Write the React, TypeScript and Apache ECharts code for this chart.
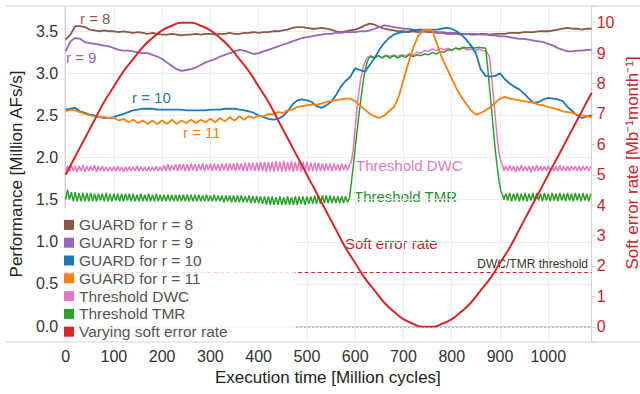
import React, { useEffect, useRef } from "react";
import * as echarts from "echarts";

const FONT = '"Liberation Sans", Arial, sans-serif';

// Sample times (million cycles) for the GUARD curves: 0..1090 every 10
const guardTimes = Array.from({ length: 110 }, (_, i) => i * 10);

const guardR8 = [
  3.40, 3.46, 3.56, 3.56, 3.55, 3.52, 3.51, 3.50, 3.51, 3.50,
  3.50, 3.49, 3.50, 3.49, 3.48, 3.49, 3.48, 3.47, 3.48, 3.47,
  3.46, 3.46, 3.47, 3.46, 3.45, 3.46, 3.46, 3.47, 3.46, 3.47,
  3.47, 3.46, 3.47, 3.47, 3.48, 3.47, 3.47, 3.48, 3.48, 3.49,
  3.48, 3.49, 3.49, 3.50, 3.50, 3.51, 3.52, 3.54, 3.55, 3.55,
  3.54, 3.53, 3.53, 3.54, 3.53, 3.52, 3.50, 3.49, 3.50, 3.51,
  3.52, 3.54, 3.57, 3.59, 3.58, 3.55, 3.53, 3.52, 3.51, 3.50,
  3.50, 3.49, 3.50, 3.49, 3.50, 3.49, 3.49, 3.48, 3.48, 3.47,
  3.47, 3.47, 3.46, 3.47, 3.46, 3.46, 3.47, 3.47, 3.46, 3.47,
  3.47, 3.47, 3.48, 3.48, 3.48, 3.49, 3.49, 3.49, 3.50, 3.50,
  3.50, 3.51, 3.52, 3.53, 3.54, 3.53, 3.53, 3.52, 3.53, 3.53,
];

const guardR9 = [
  3.26, 3.38, 3.42, 3.41, 3.37, 3.36, 3.35, 3.34, 3.33, 3.32,
  3.30, 3.28, 3.27, 3.27, 3.26, 3.25, 3.24, 3.24, 3.22, 3.20,
  3.17, 3.13, 3.09, 3.05, 3.03, 3.04, 3.05, 3.07, 3.10, 3.13,
  3.15, 3.17, 3.20, 3.22, 3.24, 3.26, 3.28, 3.27, 3.25, 3.23,
  3.24, 3.26, 3.28, 3.30, 3.32, 3.34, 3.36, 3.38, 3.40, 3.42,
  3.43, 3.44, 3.45, 3.46, 3.47, 3.47, 3.48, 3.48, 3.49, 3.49,
  3.49, 3.50, 3.50, 3.51, 3.53, 3.55, 3.57, 3.56, 3.55, 3.54,
  3.53, 3.53, 3.52, 3.51, 3.50, 3.50, 3.50, 3.49, 3.49, 3.48,
  3.48, 3.48, 3.47, 3.47, 3.47, 3.47, 3.46, 3.46, 3.45, 3.45,
  3.44, 3.44, 3.43, 3.42, 3.41, 3.41, 3.40, 3.39, 3.38, 3.37,
  3.35, 3.33, 3.30, 3.28, 3.26, 3.26, 3.27, 3.27, 3.28, 3.28,
];

const guardR10 = [
  2.57, 2.58, 2.59, 2.55, 2.53, 2.51, 2.50, 2.48, 2.47, 2.47,
  2.48, 2.50, 2.52, 2.54, 2.56, 2.57, 2.58, 2.58, 2.58, 2.57,
  2.57, 2.57, 2.57, 2.57, 2.57, 2.56, 2.56, 2.56, 2.56, 2.56,
  2.57, 2.57, 2.57, 2.58, 2.58, 2.58, 2.57, 2.56, 2.55, 2.53,
  2.50, 2.48, 2.46, 2.45, 2.46, 2.49, 2.55, 2.63, 2.68, 2.69,
  2.68, 2.66, 2.61, 2.59, 2.62, 2.66, 2.74, 2.84, 2.91, 2.96,
  3.06, 3.04, 3.02, 3.10, 3.18, 3.28, 3.36, 3.42, 3.46, 3.48,
  3.49, 3.50, 3.51, 3.52, 3.52, 3.52, 3.52, 3.52, 3.53, 3.54,
  3.53, 3.50, 3.46, 3.40, 3.33, 3.24, 3.05, 2.97, 2.96, 2.97,
  3.00, 2.93, 2.88, 2.84, 2.81, 2.76, 2.70, 2.65, 2.66, 2.69,
  2.71, 2.70, 2.69, 2.67, 2.60, 2.55, 2.50, 2.47, 2.49, 2.50,
];

const guardR11 = [
  2.55, 2.57, 2.56, 2.54, 2.52, 2.50, 2.49, 2.48, 2.48, 2.47,
  2.47, 2.44, 2.46, 2.42, 2.45, 2.41, 2.44, 2.40, 2.44, 2.40,
  2.44, 2.40, 2.45, 2.40, 2.44, 2.41, 2.45, 2.41, 2.45, 2.42,
  2.46, 2.42, 2.47, 2.43, 2.48, 2.44, 2.49, 2.45, 2.49, 2.47,
  2.50, 2.49, 2.52, 2.51, 2.54, 2.53, 2.56, 2.57, 2.60, 2.61,
  2.62, 2.63, 2.63, 2.64, 2.66, 2.67, 2.68, 2.69, 2.70, 2.70,
  2.67, 2.62, 2.57, 2.52, 2.49, 2.47, 2.50, 2.55, 2.60, 2.72,
  2.92, 3.12, 3.30, 3.44, 3.51, 3.52, 3.51, 3.34, 3.18, 3.06,
  2.94, 2.82, 2.72, 2.64, 2.56, 2.51, 2.53, 2.56, 2.60, 2.65,
  2.70, 2.72, 2.70, 2.69, 2.68, 2.67, 2.66, 2.65, 2.63, 2.62,
  2.60, 2.59, 2.57, 2.55, 2.54, 2.53, 2.51, 2.50, 2.49, 2.48,
];

// Threshold DWC: left part sampled every 4 from 0, transition/plateau, right part every 4 from 908
const dwcLeft = [
  1.84, 1.90, 1.83, 1.91, 1.84, 1.90, 1.83, 1.90, 1.84, 1.91, 1.83, 1.90, 1.84, 1.90, 1.84, 1.91, 1.83, 1.90, 1.84, 1.90, 1.84, 1.89, 1.84,
  1.89, 1.84, 1.89, 1.84, 1.90, 1.84, 1.89, 1.83, 1.89, 1.84, 1.89, 1.84, 1.89, 1.84, 1.90, 1.84, 1.89, 1.84, 1.89, 1.84, 1.89, 1.84, 1.89, 1.84, 1.90, 1.84, 1.89, 1.84,
  1.91, 1.84, 1.92, 1.84, 1.91, 1.85, 1.92, 1.84, 1.92, 1.85, 1.92, 1.84, 1.92, 1.84, 1.93, 1.85, 1.92, 1.84, 1.92, 1.85, 1.93, 1.84, 1.92, 1.85, 1.93, 1.84, 1.93, 1.85, 1.92, 1.84,
  1.93, 1.85, 1.93, 1.84, 1.93, 1.85, 1.93, 1.84, 1.94, 1.85, 1.93, 1.84, 1.94, 1.84, 1.94, 1.85, 1.94, 1.84, 1.94, 1.84,
  1.95, 1.84, 1.95, 1.83, 1.95, 1.84, 1.95, 1.83, 1.96, 1.84, 1.95, 1.83, 1.96, 1.83, 1.95, 1.84, 1.96, 1.83, 1.95, 1.84, 1.96, 1.83, 1.95, 1.84,
  1.95, 1.84, 1.94, 1.84, 1.94, 1.84, 1.94, 1.84, 1.93, 1.84, 1.93, 1.85, 1.93, 1.84, 1.93, 1.85, 1.92, 1.84, 1.93, 1.85, 1.92, 1.85, 1.91,
];
const dwcMidTimes = [
  592, 596, 600, 604, 608, 612, 616, 620, 624, 628,
  632, 640, 648, 656, 664, 672, 680, 688, 696, 704, 712, 720, 728, 736, 744, 752, 760, 768, 776, 784, 792, 800, 808, 816, 824, 832, 840, 848, 856, 864, 872,
  878, 882, 886, 890, 894, 898, 902, 906,
];
const dwcMid = [
  1.95, 2.10, 2.35, 2.60, 2.80, 2.95, 3.06, 3.13, 3.18, 3.20,
  3.21, 3.19, 3.21, 3.19, 3.22, 3.20, 3.22, 3.20, 3.22, 3.21, 3.23, 3.22, 3.25, 3.24, 3.27, 3.26, 3.29, 3.27, 3.30, 3.28, 3.30, 3.28, 3.30, 3.28, 3.30, 3.28, 3.29, 3.27, 3.29, 3.27, 3.26,
  3.20, 3.00, 2.75, 2.50, 2.25, 2.05, 1.95, 1.90,
];
const dwcRight = [
  1.84, 1.90, 1.84, 1.91, 1.84, 1.90, 1.83, 1.90, 1.84, 1.91, 1.84, 1.90, 1.84, 1.90, 1.83, 1.90,
  1.84, 1.91, 1.84, 1.90, 1.84, 1.90, 1.84, 1.90, 1.85, 1.90, 1.84, 1.90, 1.84, 1.91, 1.84, 1.90,
  1.84, 1.90, 1.84, 1.90, 1.85, 1.90, 1.84, 1.90, 1.84, 1.90, 1.85, 1.90, 1.84, 1.90,
];

// Threshold TMR
const tmrLeft = [
  1.50, 1.62, 1.50, 1.59, 1.48, 1.59, 1.48, 1.58, 1.48, 1.58, 1.48, 1.58, 1.48, 1.58,
  1.48, 1.57, 1.48, 1.57, 1.49, 1.57, 1.48, 1.58, 1.48, 1.57, 1.48, 1.57, 1.49, 1.57, 1.48, 1.57, 1.48, 1.57, 1.49, 1.57, 1.48, 1.57, 1.48, 1.56, 1.48, 1.57,
  1.48, 1.56, 1.48, 1.57, 1.48, 1.56, 1.48, 1.57, 1.48, 1.56, 1.48, 1.56, 1.48, 1.56, 1.48, 1.56, 1.48, 1.56, 1.48, 1.56, 1.48, 1.56, 1.48, 1.56, 1.48, 1.56,
  1.48, 1.56, 1.48, 1.56, 1.48, 1.55, 1.48, 1.56, 1.48, 1.55, 1.48, 1.56, 1.48, 1.55, 1.48, 1.55, 1.47, 1.55, 1.48, 1.55, 1.47, 1.55, 1.47, 1.55, 1.47, 1.55, 1.47, 1.54, 1.47, 1.55, 1.46, 1.54, 1.46, 1.54, 1.46,
  1.54, 1.45, 1.54, 1.44, 1.54, 1.44, 1.54, 1.44, 1.53, 1.44, 1.54, 1.44, 1.53, 1.44, 1.54, 1.44, 1.53, 1.44, 1.54, 1.44, 1.54, 1.45, 1.54, 1.44, 1.54, 1.45, 1.54, 1.45, 1.55, 1.45, 1.55, 1.45, 1.55, 1.46, 1.55,
  1.46, 1.55, 1.46, 1.54, 1.46, 1.54, 1.46, 1.54, 1.46, 1.54, 1.47,
];
const tmrMidTimes = [
  588, 592, 596, 600, 604, 608, 612, 616, 620, 624, 628, 632,
  640, 648, 656, 664, 672, 680, 688, 696, 704, 712, 720, 728, 736, 744, 752, 760, 768, 776, 784, 792, 800, 808, 816, 824, 832, 840, 848, 856, 864, 870,
  874, 878, 882, 886, 890, 894, 898, 902, 906,
];
const tmrMid = [
  1.52, 1.70, 1.90, 2.12, 2.32, 2.52, 2.70, 2.88, 3.02, 3.12, 3.18, 3.20,
  3.18, 3.21, 3.18, 3.21, 3.18, 3.21, 3.18, 3.21, 3.19, 3.22, 3.20, 3.22, 3.21, 3.23, 3.22, 3.25, 3.23, 3.26, 3.25, 3.28, 3.27, 3.30, 3.29, 3.31, 3.30, 3.31, 3.30, 3.31, 3.30, 3.30,
  3.10, 2.85, 2.60, 2.35, 2.10, 1.90, 1.72, 1.60, 1.55,
];
const tmrRight = [
  1.50, 1.57, 1.49, 1.58, 1.48, 1.57, 1.49, 1.58, 1.48, 1.57, 1.49, 1.58, 1.48, 1.57, 1.49, 1.58,
  1.48, 1.58, 1.49, 1.57, 1.48, 1.58, 1.49, 1.57, 1.48, 1.58, 1.49, 1.57, 1.48, 1.58, 1.49, 1.57,
  1.48, 1.58, 1.49, 1.57, 1.48, 1.58, 1.49, 1.57, 1.48, 1.58, 1.49, 1.57, 1.48, 1.57,
];

// Varying soft error rate (right axis), every 20 from 0, plus the last sample at 1090
const softTimes = [
  0, 20, 40, 60, 80, 100, 120, 140, 160, 180, 200, 220, 240, 260, 280, 300, 320, 340, 360, 380,
  400, 420, 440, 460, 480, 500, 520, 540, 560, 580, 600, 620, 640, 660, 680, 700, 720, 740, 760, 780,
  800, 820, 840, 860, 880, 900, 920, 940, 960, 980, 1000, 1020, 1040, 1060, 1080, 1090,
];
const softRate = [
  5.0, 5.6, 6.2, 6.8, 7.4, 7.9, 8.4, 8.8, 9.2, 9.5, 9.75, 9.9, 10.0, 10.0, 9.9, 9.75, 9.5, 9.2, 8.8, 8.4,
  7.9, 7.4, 6.8, 6.2, 5.6, 5.0, 4.4, 3.8, 3.2, 2.6, 2.1, 1.6, 1.2, 0.8, 0.5, 0.25, 0.1, 0.0, 0.0, 0.1,
  0.25, 0.5, 0.8, 1.2, 1.6, 2.1, 2.6, 3.2, 3.8, 4.4, 5.0, 5.6, 6.2, 6.8, 7.4, 7.7,
];
const dwcTmrThreshold = 1.8;

const legendNames = [
  "GUARD for r = 8",
  "GUARD for r = 9",
  "GUARD for r = 10",
  "GUARD for r = 11",
  "Threshold DWC",
  "Threshold TMR",
  "Varying soft error rate",
];
const colors = ["#8c564b", "#9467bd", "#1f77b4", "#ff7f0e", "#e377c2", "#2ca02c", "#d62728"];

const SPINE = "#d2d2d2";
const GRID = "#ebebeb";
const RED_TEXT = "#c2272d";

function pairs(times: number[], values: number[]) {
  return values.map((v, i) => [times[i], v]);
}
function stepPairs(start: number, step: number, values: number[]) {
  return values.map((v, i) => [start + step * i, v]);
}

function lineSeries(name: string, color: string, data: any[], width: number, z: number) {
  return {
    type: "line",
    name,
    data,
    symbol: "none",
    showSymbol: false,
    silent: true,
    z,
    lineStyle: { color, width },
    itemStyle: { color },
  };
}

export default function App() {
  const ref = useRef<HTMLDivElement>(null);
  useEffect(() => {
    if (!ref.current) return;
    const chart = echarts.init(ref.current, null, { renderer: "svg" });

    const dwcData = [
      ...stepPairs(0, 4, dwcLeft),
      ...pairs(dwcMidTimes, dwcMid),
      ...stepPairs(908, 4, dwcRight),
    ];
    const tmrData = [
      ...stepPairs(0, 4, tmrLeft),
      ...pairs(tmrMidTimes, tmrMid),
      ...stepPairs(908, 4, tmrRight),
    ];

    const near = (v: number, step: number) => Math.abs(v / step - Math.round(v / step)) < 1e-6;

    const option: any = {
      animation: false,
      textStyle: { fontFamily: FONT },
      grid: { left: 58.3, right: 48.3, top: 6, bottom: 52, containLabel: false },
      legend: {
        orient: "vertical",
        left: 58,
        top: 207,
        z: 30,
        itemWidth: 10,
        itemHeight: 10,
        itemGap: 0,
        icon: "rect",
        padding: [9, 66, 2, 6],
        textStyle: { fontSize: 15.5, color: "#555555", lineHeight: 17.8, fontFamily: FONT },
        data: legendNames,
        selectedMode: false,
      },
      xAxis: {
        type: "value",
        min: -3,
        max: 1090,
        splitNumber: 11,
        axisLine: { show: true, lineStyle: { color: SPINE, width: 1 } },
        axisTick: { show: false },
        axisLabel: {
          color: "#333333",
          fontSize: 16,
          margin: 6,
          fontFamily: FONT,
          formatter: (v: number) => (near(v, 100) ? String(Math.round(v)) : ""),
        },
        splitLine: { show: true, lineStyle: { color: GRID, width: 1 } },
        name: "Execution time [Million cycles]",
        nameLocation: "middle",
        nameGap: 27,
        nameTextStyle: { fontSize: 17, color: "#222222", fontFamily: FONT },
      },
      yAxis: [
        {
          type: "value",
          min: -0.19,
          max: 3.8,
          splitNumber: 8,
          axisLine: { show: true, lineStyle: { color: SPINE, width: 1 } },
          axisTick: { show: false },
          axisLabel: {
            color: "#333333",
            fontSize: 16,
            margin: 6,
            fontFamily: FONT,
            formatter: (v: number) => (near(v, 0.5) ? (Math.round(v * 2) / 2).toFixed(1) : ""),
          },
          splitLine: { show: true, lineStyle: { color: GRID, width: 1 } },
          name: "Performance [Million AFs/s]",
          nameLocation: "middle",
          nameRotate: 90,
          nameGap: 33,
          nameTextStyle: { fontSize: 17, color: "#222222", fontFamily: FONT },
        },
        {
          type: "value",
          position: "right",
          min: -0.5,
          max: 10.55,
          splitNumber: 11,
          axisLine: { show: true, lineStyle: { color: SPINE, width: 1 } },
          axisTick: { show: true, length: 4, lineStyle: { color: SPINE } },
          axisLabel: {
            color: RED_TEXT,
            fontSize: 16,
            margin: 5,
            fontFamily: FONT,
            formatter: (v: number) => (near(v, 1) ? String(Math.round(v)) : ""),
          },
          splitLine: { show: false },
        },
      ],
      series: [
        lineSeries(legendNames[0], colors[0], pairs(guardTimes, guardR8), 1.8, 3),
        lineSeries(legendNames[1], colors[1], pairs(guardTimes, guardR9), 1.8, 3),
        lineSeries(legendNames[2], colors[2], pairs(guardTimes, guardR10), 1.8, 3),
        lineSeries(legendNames[3], colors[3], pairs(guardTimes, guardR11), 1.8, 3),
        lineSeries(legendNames[4], colors[4], dwcData, 1.5, 2),
        lineSeries(legendNames[5], colors[5], tmrData, 1.5, 2),
        {
          ...lineSeries(legendNames[6], colors[6], pairs(softTimes, softRate), 2, 3),
          yAxisIndex: 1,
          smooth: true,
          markLine: {
            silent: true,
            symbol: ["none", "none"],
            label: { show: false },
            data: [
              { yAxis: dwcTmrThreshold, lineStyle: { color: "#d62728", type: [4, 2.5], width: 1 } },
              { yAxis: 0, lineStyle: { color: "#b5b5b5", type: [2, 2], width: 1 } },
            ],
          },
        },
      ],
      graphic: [
        { type: "line", shape: { x1: 6, y1: 6, x2: 640, y2: 6 }, style: { stroke: SPINE, lineWidth: 1 }, silent: true },
        { type: "line", shape: { x1: 6, y1: 342, x2: 640, y2: 342 }, style: { stroke: SPINE, lineWidth: 1 }, silent: true },
        {
          type: "rect", z: 20, silent: true,
          shape: { x: 59, y: 208, width: 236, height: 133 },
          style: { fill: "rgba(255,255,255,0.82)", stroke: "none" },
        },
        {
          type: "text", x: 632, y: 163, rotation: Math.PI / 2, silent: true,
          style: { text: "Soft error rate [Mb\u207B\u00B9month\u207B\u00B9]", fill: RED_TEXT, font: `17px ${FONT}`, align: "center", verticalAlign: "middle" },
        },
        { type: "text", x: 80, y: 18, silent: true, style: { text: "r = 8", fill: colors[0], font: `15px ${FONT}`, verticalAlign: "middle" } },
        { type: "text", x: 66, y: 57.5, silent: true, style: { text: "r = 9", fill: colors[1], font: `15px ${FONT}`, verticalAlign: "middle" } },
        { type: "text", x: 132, y: 97, silent: true, style: { text: "r = 10", fill: colors[2], font: `15px ${FONT}`, verticalAlign: "middle" } },
        { type: "text", x: 183, y: 132.5, silent: true, style: { text: "r = 11", fill: colors[3], font: `15px ${FONT}`, verticalAlign: "middle" } },
        { type: "text", x: 356, y: 165, silent: true, style: { text: "Threshold DWC", fill: "#e07bbf", font: `15px ${FONT}`, verticalAlign: "middle" } },
        { type: "text", x: 354, y: 196.5, silent: true, style: { text: "Threshold TMR", fill: "#2b8f3b", font: `15px ${FONT}`, verticalAlign: "middle" } },
        { type: "text", x: 345, y: 243, silent: true, style: { text: "Soft error rate", fill: RED_TEXT, font: `15px ${FONT}`, verticalAlign: "middle" } },
        { type: "text", x: 588, y: 264, silent: true, style: { text: "DWC/TMR threshold", fill: "#333333", font: `12px ${FONT}`, align: "right", verticalAlign: "middle" } },
      ],
    };

    chart.setOption(option);
    return () => chart.dispose();
  }, []);

  return (
    <div
      ref={ref}
      style={{ position: "absolute", left: 0, top: 0, width: 640, height: 394, background: "#ffffff" }}
    />
  );
}
